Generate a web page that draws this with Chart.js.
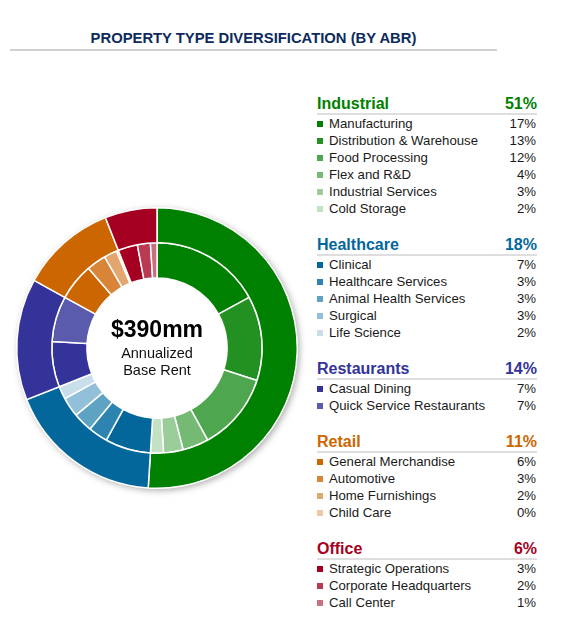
<!DOCTYPE html>
<html>
<head>
<meta charset="utf-8">
<title>Property Type Diversification</title>
<script src="https://cdn.jsdelivr.net/npm/chart.js@4.4.1/dist/chart.umd.min.js"></script>
<style>
  body { margin: 0; background: #fff; font-family: "Liberation Sans", Arial, sans-serif; }
  #page { position: relative; width: 564px; height: 631px; overflow: hidden; }
  #title {
    position: absolute; left: 10px; width: 487px; top: 30px;
    text-align: center; font-weight: bold; font-size: 14.8px; color: #0d2a5c;
  }
  #rule { position: absolute; left: 10px; width: 487px; top: 49px; height: 2px; background: #d0d0d0; }
  #chartBox { position: absolute; left: 7px; top: 198px; width: 300px; height: 300px; }
  #legend { position: absolute; left: 317px; top: 0; width: 220px; }
  .hdr { position: absolute; left: 0; width: 220px; font-weight: bold; font-size: 16px; line-height: 18px; }
  .hdr .pct { position: absolute; right: 0; top: 0; }
  .hline { position: absolute; left: 0; width: 220px; height: 2px; background: #dedede; }
  .item { position: absolute; left: 0; width: 219px; font-size: 13.2px; line-height: 15px; color: #1a1a1a; }
  .item .sq { position: absolute; left: 0; top: 5px; width: 6px; height: 6px; }
  .item .lbl { position: absolute; left: 12px; top: 0; white-space: nowrap; }
  .item .pct { position: absolute; right: 0; top: 0; }
</style>
</head>
<body>
<div id="page">
  <div id="title">PROPERTY TYPE DIVERSIFICATION (BY ABR)</div>
  <div id="rule"></div>
  <div id="chartBox"><canvas id="ptChart"></canvas></div>
  <div id="legend"></div>
</div>
<script>
// outer ring: property types
const categories = ['Industrial', 'Healthcare', 'Restaurants', 'Retail', 'Office'];
const categoryShares = [51, 18, 14, 11, 6];
const categoryColors = ['#008000', '#03679c', '#333399', '#cc6600', '#a50021'];

// inner ring: sub types (group = index into categories)
const subTypes = [
  'Manufacturing', 'Distribution & Warehouse', 'Food Processing', 'Flex and R&D', 'Industrial Services', 'Cold Storage',
  'Clinical', 'Healthcare Services', 'Animal Health Services', 'Surgical', 'Life Science',
  'Casual Dining', 'Quick Service Restaurants',
  'General Merchandise', 'Automotive', 'Home Furnishings', 'Child Care',
  'Strategic Operations', 'Corporate Headquarters', 'Call Center'
];
const subShares = [17, 13, 12, 4, 3, 2, 7, 3, 3, 3, 2, 7, 7, 5.7, 3, 2, 0.3, 3, 2, 1];
const subGroup = [0, 0, 0, 0, 0, 0, 1, 1, 1, 1, 1, 2, 2, 3, 3, 3, 3, 4, 4, 4];
const subColors = [
  '#008000', '#229122', '#4ea64e', '#74b974', '#9acd9a', '#c3e1c3',
  '#03679c', '#2e84b0', '#5ea2c4', '#92c0d8', '#c8dfeb',
  '#333399', '#5b5bad',
  '#cc6600', '#d8853a', '#e3a66e', '#edc8a2',
  '#a50021', '#b93a52', '#cb6f80'
];

const centerValue = '$390mm';
const centerLines = ['Annualized', 'Base Rent'];

// legend on the right
const legend = document.getElementById('legend');
let y = 103.5;
categories.forEach(function (cat, g) {
  const hdr = document.createElement('div');
  hdr.className = 'hdr';
  hdr.style.top = (y - 9) + 'px';
  hdr.style.color = categoryColors[g];
  hdr.innerHTML = '<span></span><span class="pct"></span>';
  hdr.children[0].textContent = cat;
  hdr.children[1].textContent = categoryShares[g] + '%';
  legend.appendChild(hdr);

  const line = document.createElement('div');
  line.className = 'hline';
  line.style.top = (y + 9) + 'px';
  legend.appendChild(line);

  y += 19.5;
  subTypes.forEach(function (name, i) {
    if (subGroup[i] !== g) return;
    const row = document.createElement('div');
    row.className = 'item';
    row.style.top = (y - 7.5) + 'px';
    row.innerHTML = '<span class="sq"></span><span class="lbl"></span><span class="pct"></span>';
    row.children[0].style.background = subColors[i];
    row.children[1].textContent = name;
    row.children[2].textContent = Math.round(subShares[i]) + '%';
    legend.appendChild(row);
    y += 17;
  });
  y += 19.5;
});

// soft shadow behind the ring
const ringShadow = {
  id: 'ringShadow',
  beforeDatasetsDraw(chart) {
    const arc = chart.getDatasetMeta(0).data[0];
    if (!arc) return;
    const ctx = chart.ctx;
    ctx.save();
    ctx.shadowColor = 'rgba(0,0,0,0.35)';
    ctx.shadowBlur = 7;
    ctx.shadowOffsetX = 2;
    ctx.shadowOffsetY = 2;
    ctx.fillStyle = '#ffffff';
    ctx.beginPath();
    ctx.arc(arc.x, arc.y, arc.outerRadius, 0, Math.PI * 2);
    ctx.fill();
    ctx.restore();
  }
};

// total in the hole
const centerText = {
  id: 'centerText',
  afterDatasetsDraw(chart) {
    const arc = chart.getDatasetMeta(0).data[0];
    if (!arc) return;
    const ctx = chart.ctx;
    ctx.save();
    ctx.textAlign = 'center';
    ctx.textBaseline = 'middle';
    ctx.fillStyle = '#000';
    ctx.font = 'bold 23px "Liberation Sans", Arial, sans-serif';
    ctx.fillText(centerValue, arc.x, arc.y - 17);
    ctx.fillStyle = '#111';
    ctx.font = '14.5px "Liberation Sans", Arial, sans-serif';
    ctx.fillText(centerLines[0], arc.x, arc.y + 6);
    ctx.fillText(centerLines[1], arc.x, arc.y + 23);
    ctx.restore();
  }
};

new Chart(document.getElementById('ptChart'), {
  type: 'doughnut',
  data: {
    labels: subTypes,
    datasets: [
      {
        label: 'Property type',
        data: categoryShares,
        backgroundColor: categoryColors,
        borderColor: '#ffffff',
        borderWidth: 1.5
      },
      {
        label: 'Sub type',
        data: subShares,
        backgroundColor: subColors,
        borderColor: '#ffffff',
        borderWidth: 1.5
      }
    ]
  },
  options: {
    responsive: true,
    maintainAspectRatio: false,
    animation: false,
    cutout: '50%',
    layout: { padding: 9 },
    plugins: {
      legend: { display: false },
      tooltip: { enabled: false }
    }
  },
  plugins: [ringShadow, centerText]
});
</script>
</body>
</html>
